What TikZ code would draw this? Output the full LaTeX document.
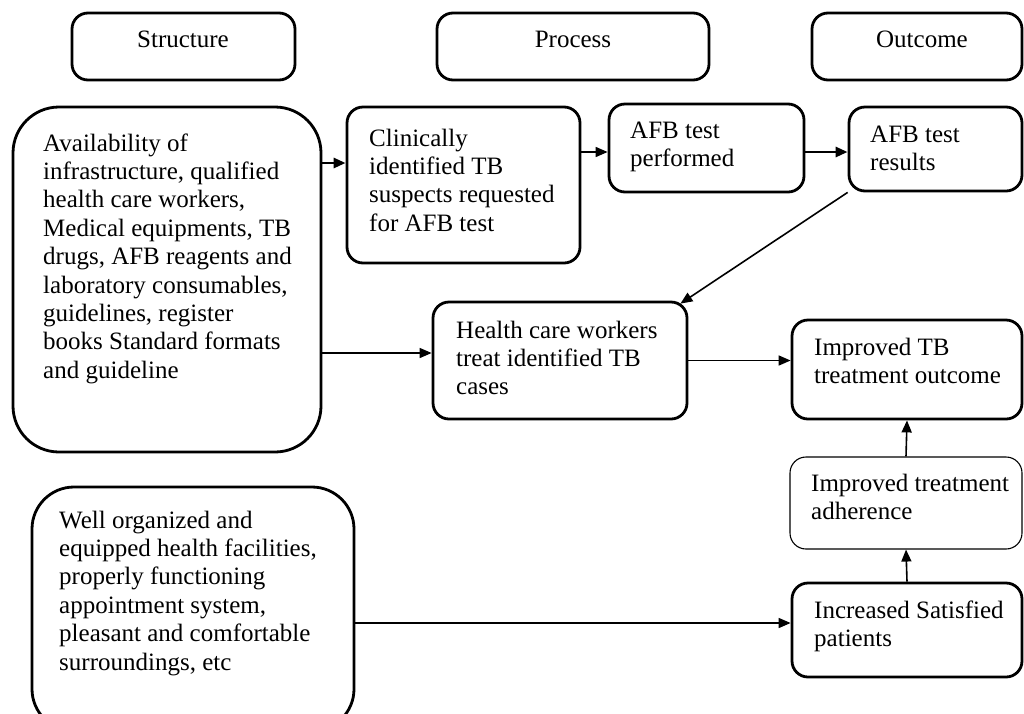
\documentclass[tikz,border=0pt]{standalone}
\usepackage{fontspec}
\setmainfont{Liberation Serif}
\usetikzlibrary{arrows.meta}
\begin{document}
\begin{tikzpicture}[x=1pt,y=-1pt,
  box/.style={draw, line width=2.8pt, rounded corners=16pt, inner sep=0pt},
  bigbox/.style={box, rounded corners=46pt},
  thinbox/.style={draw, line width=1.1pt, rounded corners=16pt, inner sep=0pt},
  txt/.style={inner sep=0pt, anchor=base west, font=\fontsize{25}{28.4}\selectfont},
  head/.style={inner sep=0pt, anchor=base, font=\fontsize{25}{28.4}\selectfont},
  arr/.style={-{Triangle[length=12pt,width=10pt]}, line width=1.6pt},
  thickarr/.style={arr, line width=2.8pt}]
\clip (0,0) rectangle (1024,713);
\fill[white] (0,0) rectangle (1024,713);
% headers
\node[box, minimum width=223pt, minimum height=67pt] (hS) at (183.5,46.5) {};
\node[box, minimum width=272pt, minimum height=67pt] (hP) at (573,46.5) {};
\node[box, minimum width=210pt, minimum height=67pt] (hO) at (917,46.5) {};
\node[head] (hST) at (183,47) {Structure};
\node[head] (hPT) at (573,47) {Process};
\node[head] (hOT) at (922,47) {Outcome};
% boxes
\node[bigbox, minimum width=308pt, minimum height=345pt] (big) at (167,279.5) {};
\node[box, minimum width=233pt, minimum height=156pt] (clin) at (463.5,185) {};
\node[box, minimum width=195pt, minimum height=88pt] (afbp) at (706.5,148) {};
\node[box, minimum width=173pt, minimum height=84pt] (afbr) at (935.5,149) {};
\node[box, minimum width=254pt, minimum height=117pt] (hcw) at (560,360.5) {};
\node[box, minimum width=230pt, minimum height=99pt] (ito) at (907,369.5) {};
\node[thinbox, minimum width=232pt, minimum height=92pt] (ita) at (906,503) {};
\node[box, minimum width=230pt, minimum height=94pt] (isp) at (907,630) {};
\node[bigbox, rounded corners=42pt, minimum width=322pt, minimum height=244pt] (wel) at (193,609) {};
% texts
\node[txt] (bigT) at (43,151) {\begin{tabular}[t]{@{}l@{}}Availability of\\infrastructure, qualified\\health care workers,\\Medical equipments, TB\\drugs, AFB reagents and\\laboratory consumables,\\guidelines, register\\books Standard formats\\and guideline\end{tabular}};
\node[txt] (clinT) at (369,146) {\begin{tabular}[t]{@{}l@{}}Clinically\\identified TB\\suspects requested\\for AFB test\end{tabular}};
\node[txt] (afbpT) at (630,138) {\begin{tabular}[t]{@{}l@{}}AFB test\\performed\end{tabular}};
\node[txt] (afbrT) at (870,142) {\begin{tabular}[t]{@{}l@{}}AFB test\\results\end{tabular}};
\node[txt] (hcwT) at (456,338) {\begin{tabular}[t]{@{}l@{}}Health care workers\\treat identified TB\\cases\end{tabular}};
\node[txt] (itoT) at (814,355) {\begin{tabular}[t]{@{}l@{}}Improved TB\\treatment outcome\end{tabular}};
\node[txt] (itaT) at (811,491) {\begin{tabular}[t]{@{}l@{}}Improved treatment\\adherence\end{tabular}};
\node[txt] (ispT) at (814,618) {\begin{tabular}[t]{@{}l@{}}Increased Satisfied\\patients\end{tabular}};
\node[txt] (welT) at (59,528) {\begin{tabular}[t]{@{}l@{}}Well organized and\\equipped health facilities,\\properly functioning\\appointment system,\\pleasant and comfortable\\surroundings, etc\end{tabular}};
% connectors
\coordinate (a1) at ([yshift=22pt]clin.west);
\draw[thickarr] (a1 -| big.east) -- (a1);
\coordinate (a2) at ([yshift=-4pt]afbp.west);
\draw[arr] (a2 -| clin.east) -- (a2);
\coordinate (a3) at ([yshift=-3pt]afbr.west);
\draw[thickarr] (a3 -| afbp.east) -- (a3);
\draw[arr] (afbr.south west) -- ([xshift=-8pt,yshift=-3pt]hcw.north east);
\coordinate (a4) at ([yshift=7.5pt]hcw.west);
\draw[arr] (a4 -| big.east) -- (a4);
\draw[arr] (hcw.east) -- (hcw.east -| ito.west);
\coordinate (a5) at ([yshift=7pt]isp.west);
\draw[arr] (a5 -| wel.east) -- (a5);
\draw[arr] (isp.north) -- (ita.south);
\draw[arr] (ita.north) -- (ito.south);
\end{tikzpicture}
\end{document}
